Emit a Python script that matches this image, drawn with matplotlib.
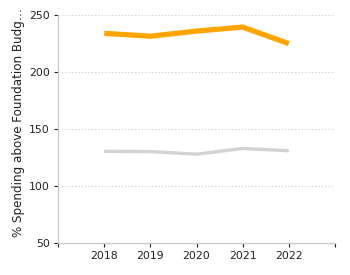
import matplotlib
matplotlib.use("Agg")
import matplotlib.pyplot as plt

# data
years = [2018, 2019, 2020, 2021, 2022]
orange_vals = [234, 231.5, 236, 239.5, 225]
gray_vals = [130.5, 130.3, 128, 133, 131]
y_ticks = [50, 100, 150, 200, 250]
x_ticks = [2017, 2018, 2019, 2020, 2021, 2022, 2023]
x_labels = ["", "2018", "2019", "2020", "2021", "2022", ""]

fig = plt.figure(figsize=(3.5, 2.75), dpi=100)
ax = fig.add_axes([0.166, 0.116, 0.791, 0.829])

ax.plot(years, gray_vals, color="#d3d3d3", linewidth=2.4, solid_capstyle="butt")
ax.plot(years, orange_vals, color="#ffa500", linewidth=3.8, solid_capstyle="butt")

ax.set_xlim(2017, 2023)
ax.set_ylim(50, 250)
ax.set_yticks(y_ticks)
ax.set_xticks(x_ticks)
ax.set_xticklabels(x_labels)
for yv in y_ticks[1:]:
    ax.axhline(yv, color="#c8c8c8", linewidth=0.8, linestyle=(0, (1, 2)), zorder=0)

for side in ["top", "right"]:
    ax.spines[side].set_visible(False)
for side in ["left", "bottom"]:
    ax.spines[side].set_color("#cccccc")
    ax.spines[side].set_linewidth(1)
ax.tick_params(axis="both", length=3, width=0.8, color="#222222", labelsize=7.8, labelcolor="#222222", pad=3)

fig.text(0.052, 0.555, "% Spending above Foundation Budg\u2026", rotation=90, fontsize=8.6,
         color="#222222", ha="center", va="center")

fig.savefig("out.png", dpi=100)
